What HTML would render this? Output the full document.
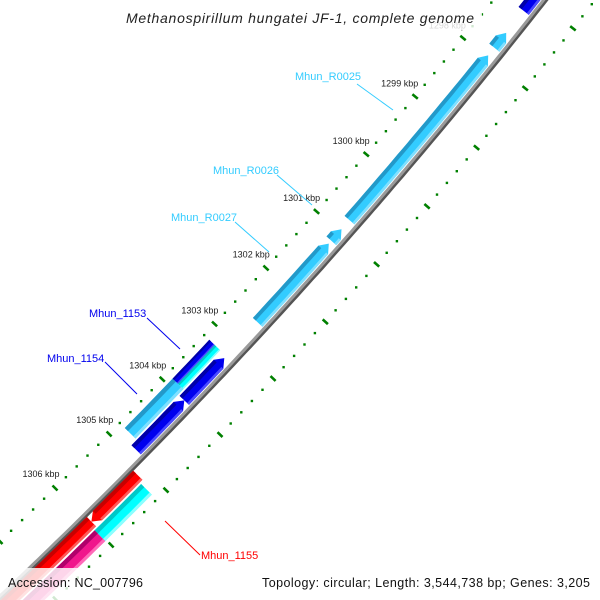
<!DOCTYPE html>
<html><head><meta charset="utf-8"><style>
html,body{margin:0;padding:0;background:#fff;width:600px;height:600px;overflow:hidden;}
svg{display:block;font-family:"Liberation Sans",sans-serif;}
</style></head><body>
<svg id="map" width="600" height="600" viewBox="0 0 600 600" xmlns="http://www.w3.org/2000/svg">
<g id="ticks"></g>
<g id="backbone"></g>
<g id="feats"></g>
<g id="labels"></g>
<rect x="118" y="4" width="364" height="26" fill="#fff" opacity="0.82"/>
<text x="300" y="23" text-anchor="middle" font-size="14" font-style="italic" fill="#222" textLength="348">Methanospirillum hungatei JF-1, complete genome</text>
<rect x="0" y="568" width="150" height="32" fill="#fff" opacity="0.82"/>
<rect x="256" y="568" width="344" height="32" fill="#fff" opacity="0.82"/>
<text x="8" y="587" font-size="12.5" fill="#111" textLength="135">Accession: NC_007796</text>
<text x="590" y="587" text-anchor="end" font-size="12.5" fill="#111" textLength="328">Topology: circular; Length: 3,544,738 bp; Genes: 3,205</text>
</svg>
<script>
// ---- data ----
const majorTicks = [1296, 1297, 1298, 1299, 1300, 1301, 1302, 1303, 1304, 1305, 1306, 1307, 1308];
const tickLabels = ["","","1298 kbp","1299 kbp","1300 kbp","1301 kbp","1302 kbp","1303 kbp","1304 kbp","1305 kbp","1306 kbp","",""];
const featStart = [1296.5, 1297.59, 1297.97, 1300.96, 1301.21, 1303.24, 1304.0, 1303.9, 1303.2, 1303.2, 1305.12, 1305.97, 1305.17, 1306.02];
const featEnd   = [1297.22, 1297.84, 1300.8, 1301.16, 1302.6, 1304.0, 1304.9, 1304.8, 1303.9, 1303.9, 1305.97, 1307.8, 1306.02, 1307.8];
const featRing  = ["o1","o1","o1","o1","o1","o1","o1","o2","o2a","o2b","i1","i1","i2","i2"];
const featColor = ["dblue","lblue","lblue","lblue","lblue","dblue","dblue","lblue","dblue","cyan","red","red","cyan","pink"];
const featHead  = ["start","start","start","start","start","start","start","none","none","none","end","none","none","none"];
const labelText = ["Mhun_R0025","Mhun_R0026","Mhun_R0027","Mhun_1153","Mhun_1154","Mhun_1155"];
const labelColor= ["#33ccff","#33ccff","#33ccff","#0000ee","#0000ee","#ff0000"];
const labelPos  = [[295,80],[213,174],[171,221],[89,317],[47,362],[201,559]];
const labelLineStart = [[357,84],[277,175],[235,222],[147,318],[105,362],[200,555]];
const labelLineEnd   = [[393,110],[312,205],[269,252],[180,349],[137,394],[165,521]];

// ---- geometry (axis functions) ----
const K0=1298,K1=1302,K2=1306, P0=[463,38],P1=[266,268],P2=[55,488], TOFF=40;
function T(k){const a=(k-K1)*(k-K2)/((K0-K1)*(K0-K2)),b=(k-K0)*(k-K2)/((K1-K0)*(K1-K2)),c=(k-K0)*(k-K1)/((K2-K0)*(K2-K1));
 return [a*P0[0]+b*P1[0]+c*P2[0], a*P0[1]+b*P1[1]+c*P2[1]];}
function N(k){const p=T(k-0.01),q=T(k+0.01);let tx=q[0]-p[0],ty=q[1]-p[1];const l=Math.hypot(tx,ty);tx/=l;ty/=l;return [-ty,tx];}
function pos(k,off){const t=T(k),n=N(k);return [t[0]+(off-TOFF)*n[0], t[1]+(off-TOFF)*n[1]];}
const NS="http://www.w3.org/2000/svg";
function mk(tag,attrs,parent){const e=document.createElementNS(NS,tag);for(const a in attrs)e.setAttribute(a,attrs[a]);parent.appendChild(e);return e;}
const f=v=>v.toFixed(1);

// backbone
const bb=document.getElementById('backbone');
function curve(off,k1,k2){let d="";for(let k=k1;k<=k2+1e-9;k+=0.1){const p=pos(k,off);d+=(d?"L":"M")+f(p[0])+","+f(p[1]);}return d;}
const bsh=mk('path',{d:curve(-1.8,1295,1309),stroke:'#555',"stroke-width":3,fill:'none'},bb);


const bl=mk('path',{d:curve(0.6,1295,1309),stroke:'#9a9a9a',"stroke-width":3,fill:'none'},bb);



// ticks
const tg=document.getElementById('ticks');
const kmin=majorTicks[0],kmax=majorTicks[majorTicks.length-1];
for(const side of [40,-40]){
 for(let i=0;i<=(kmax-kmin)*5;i++){
  const k=kmin+i*0.2;
  if(i%5===0)continue;
  const p=pos(k,side);
  const d=mk('rect',{x:f(p[0]-1.2),y:f(p[1]-1.2),width:2.4,height:2.4,fill:'#008000'},tg);
  
  
 }
 majorTicks.forEach((k,i)=>{
  const a=pos(k,side-3.5),b=pos(k,side+3.5);
  const ln=mk('line',{x1:f(a[0]),y1:f(a[1]),x2:f(b[0]),y2:f(b[1]),stroke:'#008000',"stroke-width":2.6},tg);
  
  
  if(side>0 && tickLabels[i]){
   const p=pos(k,side+20);
   const t=mk('text',{x:f(p[0]),y:f(p[1]+3),"text-anchor":'middle',"font-size":9,fill:'#222'},tg);
   t.textContent=tickLabels[i];
   
   
  }
 });
}

// features
const rings={o1:[3,16],o2:[18,33],o2a:[25.5,33],o2b:[18,25.5],i1:[-16,-3],i2:[-33,-18]};
const pal={lblue:['#33ccff','#2399c9','#7fe0ff'],dblue:['#0000ee','#0000a8','#4a4aff'],cyan:['#00ffff','#00c8c8','#8affff'],red:['#ff0000','#c80000','#ff5a5a'],pink:['#f0168c','#b0006a','#ff6ab8']};
const fg=document.getElementById('feats');
function band(k1,k2,o1,o2){const pts=[];const n=Math.max(2,Math.ceil((k2-k1)/0.1));
 for(let i=0;i<=n;i++){pts.push(pos(k1+(k2-k1)*i/n,o2));}
 for(let i=n;i>=0;i--){pts.push(pos(k1+(k2-k1)*i/n,o1));}return pts;}
const H=0.11;
featStart.forEach((s,i)=>{
 const e=featEnd[i],r=rings[featRing[i]],c=pal[featColor[i]],hd=featHead[i];
 const mid=(r[0]+r[1])/2;
 let a=s,b=e;if(hd==='start')a=Math.min(e,s+H);if(hd==='end')b=Math.max(s,e-H);
 const sh=band(a,b,r[0],r[1]);const n=sh.length/2;
 let pts=sh;
 if(hd==='start'){pts=[pos(s,mid),...sh.slice(0,n),...sh.slice(n)];}
 if(hd==='end'){pts=[...sh.slice(0,n),pos(e,mid),...sh.slice(n)];}
 const g=mk('g',{},fg);
 
 
 const body=mk('polygon',{points:pts.map(p=>f(p[0])+","+f(p[1])).join(" "),fill:c[0]},g);
 
 
 const w=r[1]-r[0];
 const dk=mk('polygon',{points:band(a,b,r[1]-w*0.3,r[1]).map(p=>f(p[0])+","+f(p[1])).join(" "),fill:c[1]},g);
 
 
 const lt=mk('polygon',{points:band(a,b,r[0],r[0]+w*0.2).map(p=>f(p[0])+","+f(p[1])).join(" "),fill:c[2]},g);
 
 
});

// labels
const lg=document.getElementById('labels');
labelText.forEach((txt,i)=>{
 const ls=labelLineStart[i],le=labelLineEnd[i];
 const ln=mk('line',{x1:ls[0],y1:ls[1],x2:le[0],y2:le[1],stroke:labelColor[i],"stroke-width":1},lg);
 
 
 const t=mk('text',{x:labelPos[i][0],y:labelPos[i][1],"font-size":11,fill:labelColor[i]},lg);
 t.textContent=txt;
 
 
});
</script>
</body></html>
